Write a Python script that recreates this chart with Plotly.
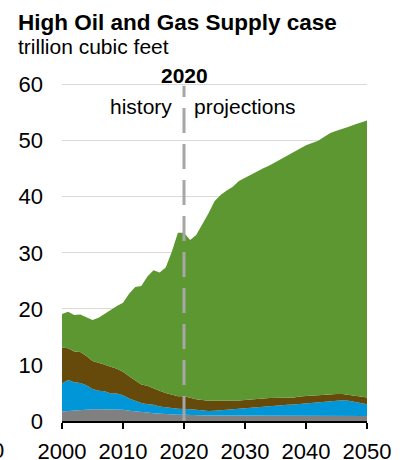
import plotly.graph_objects as go

# Years shown on the chart
years = list(range(2000, 2051))

# Layer values (trillion cubic feet), bottom to top
gray_vals = [1.7, 1.8, 1.9, 2.0, 2.1, 2.1, 2.1, 2.1, 2.1, 2.1,
             2.0, 1.85, 1.7, 1.6, 1.5, 1.4, 1.3, 1.2, 1.1, 1.1,
             1.1, 1.05, 1.05, 1.0, 1.0, 1.0, 1.0, 1.0, 1.0, 0.95,
             0.95, 0.95, 0.95, 0.95, 0.95, 0.95, 0.9, 0.9, 0.9, 0.9,
             0.9, 0.9, 0.9, 0.9, 0.9, 0.9, 0.9, 0.9, 0.9, 0.9, 0.9]

blue_vals = [5.0, 5.5, 5.0, 4.8, 4.3, 3.6, 3.3, 3.2, 2.8, 2.8,
             2.6, 2.15, 1.9, 1.6, 1.5, 1.5, 1.3, 1.2, 1.2, 1.1,
             1.1, 1.05, 0.95, 0.9, 0.8, 0.85, 0.9, 1.0, 1.1, 1.25,
             1.35, 1.4, 1.45, 1.6, 1.75, 1.85, 2.0, 2.0, 2.05, 2.15,
             2.3, 2.4, 2.5, 2.6, 2.7, 2.8, 2.8, 2.7, 2.5, 2.3, 2.1]

brown_vals = [6.4, 5.7, 5.5, 5.5, 5.2, 5.0, 5.0, 4.8, 4.8, 4.4,
              4.2, 4.0, 3.7, 3.3, 3.3, 2.9, 2.8, 2.6, 2.4, 2.2,
              2.2, 2.0, 1.9, 1.85, 1.8, 1.75, 1.7, 1.6, 1.5, 1.45,
              1.45, 1.45, 1.5, 1.45, 1.4, 1.3, 1.2, 1.25, 1.25, 1.3,
              1.3, 1.25, 1.2, 1.2, 1.2, 1.1, 1.1, 1.1, 1.1, 1.15, 1.2]

green_vals = [6.0, 6.5, 6.5, 6.7, 6.9, 7.3, 8.0, 9.0, 10.2, 11.2,
              12.3, 14.7, 16.6, 17.6, 19.5, 21.1, 21.1, 22.4, 25.5, 29.2,
              29.2, 28.2, 29.3, 31.25, 33.4, 35.6, 36.7, 37.5, 38.2, 39.15,
              39.65, 40.2, 40.7, 41.1, 41.5, 42.1, 42.7, 43.25, 43.8, 44.35,
              44.7, 45.05, 45.4, 46.0, 46.6, 47.0, 47.3, 47.8, 48.4, 48.85, 49.4]

x_ticks = [2000, 2010, 2020, 2030, 2040, 2050]
y_ticks = [0, 10, 20, 30, 40, 50, 60]

FONT = "Arial, Liberation Sans, sans-serif"

# plot area in pixels: x 62..367, y 421 (bottom) .. 83 (top)
L, R, T, B = 62, 39, 83, 39
PW, PH = 406 - L - R, 460 - T - B


def px(x):
    return (x - L) / PW


def py(y):
    return (460 - B - y) / PH


fig = go.Figure()

layers = [
    (gray_vals, "#808080"),
    (blue_vals, "#0096D7"),
    (brown_vals, "#654A0C"),
    (green_vals, "#5D9732"),
]
for vals, color in layers:
    fig.add_trace(go.Scatter(
        x=years,
        y=vals,
        mode="lines",
        stackgroup="supply",
        line=dict(width=0, color=color),
        fillcolor=color,
        showlegend=False,
        hoverinfo="skip"
    ))

# history / projections divider
fig.add_shape(
    type="line", xref="x", yref="y",
    x0=2020, x1=2020, y0=0, y1=59.8,
    line=dict(color="#A6A6A6", width=3, dash="25px,11px"),
    layer="above"
)

annotations = [
    dict(text="<b>2020</b>", x=2020, y=py(75.5), xref="x", yref="paper",
         xanchor="center", yanchor="middle", showarrow=False,
         font=dict(size=21, color="black")),
    dict(text="history", x=2018.3, y=py(106), xref="x", yref="paper",
         xanchor="right", yanchor="middle", showarrow=False,
         font=dict(size=21, color="black")),
    dict(text="projections", x=2021.3, y=py(106), xref="x", yref="paper",
         xanchor="left", yanchor="middle", showarrow=False,
         font=dict(size=21, color="black")),
    dict(text="<b>High Oil and Gas Supply case</b>", x=px(16), y=py(22),
         xref="paper", yref="paper", xanchor="left", yanchor="middle",
         showarrow=False, font=dict(size=22.5, color="black")),
    dict(text="trillion cubic feet", x=px(16), y=py(47),
         xref="paper", yref="paper", xanchor="left", yanchor="middle",
         showarrow=False, font=dict(size=21, color="black")),
    dict(text="0", x=px(6), y=py(450),
         xref="paper", yref="paper", xanchor="right", yanchor="middle",
         showarrow=False, font=dict(size=22, color="black")),
]

fig.update_layout(
    width=406,
    height=460,
    margin=dict(l=L, r=R, t=T, b=B),
    paper_bgcolor="white",
    plot_bgcolor="white",
    font=dict(family=FONT, size=22, color="black"),
    annotations=annotations,
    xaxis=dict(
        range=[2000, 2050],
        tickvals=x_ticks,
        ticks="outside",
        ticklen=6,
        tickwidth=1.5,
        tickcolor="black",
        showline=True,
        linecolor="black",
        linewidth=2,
        showgrid=False,
        zeroline=False,
        automargin=False,
        ticklabelstandoff=4,
    ),
    yaxis=dict(
        range=[0, 60.3],
        tickvals=y_ticks,
        showgrid=True,
        gridcolor="#D9D9D9",
        gridwidth=1,
        zeroline=False,
        showline=False,
        automargin=False,
        ticklabelstandoff=18,
    ),
)

# drop the page's default body margin so the figure sits at the window's corner
fig.write_html("out.html", config={"displayModeBar": False},
               post_script="document.body.style.margin='0';")
